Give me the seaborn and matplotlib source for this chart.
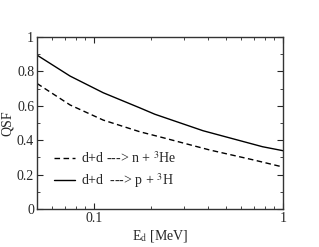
import seaborn as sns
import matplotlib.pyplot as plt
import matplotlib.ticker as mticker
import pandas as pd

# values
energy_n = [0.05, 0.0748, 0.112, 0.175, 0.224, 0.41, 0.7, 1.0]
qsf_n_he3 = [0.73, 0.605, 0.517, 0.449, 0.419, 0.343, 0.285, 0.244]
energy_p = [0.05, 0.0748, 0.112, 0.175, 0.21, 0.378, 0.78, 1.0]
qsf_p_h3 = [0.895, 0.773, 0.676, 0.588, 0.551, 0.455, 0.362, 0.339]
labels = ['d+d ---> n + $^3$He', 'd+d  ---> p + $^3$H']

df = pd.concat([
    pd.DataFrame({'E': energy_n, 'QSF': qsf_n_he3, 'reaction': labels[0]}),
    pd.DataFrame({'E': energy_p, 'QSF': qsf_p_h3, 'reaction': labels[1]}),
])

sns.set_style('ticks')
plt.rcParams['font.family'] = ['Liberation Serif', 'DejaVu Serif']
plt.rcParams['mathtext.fontset'] = 'stix'

fig = plt.figure(figsize=(3.19, 2.47), dpi=100)
ax = fig.add_axes([0.116, 0.154, 0.771, 0.696])

sns.lineplot(data=df, x='E', y='QSF', hue='reaction', style='reaction',
             palette=['black', 'black'], dashes=[(4, 2.5), ''],
             linewidth=1.0, ax=ax)

ax.set_xscale('log')
ax.set_xlim(0.05, 1)
ax.set_ylim(0, 1)
ax.xaxis.set_major_locator(mticker.FixedLocator([0.1, 1]))
ax.xaxis.set_major_formatter(mticker.FixedFormatter(['0.1', '1']))
ax.xaxis.set_minor_locator(mticker.LogLocator(subs=range(2, 10)))
ax.xaxis.set_minor_formatter(mticker.NullFormatter())
ax.yaxis.set_major_locator(mticker.MultipleLocator(0.2))
ax.yaxis.set_minor_locator(mticker.MultipleLocator(0.1))
ax.yaxis.set_major_formatter(mticker.FuncFormatter(lambda v, p: '%g' % v))

ax.tick_params(which='both', direction='in', top=True, right=True,
               labelsize=10, pad=2)
ax.tick_params(which='major', length=4)
ax.tick_params(which='minor', length=2)
for s in ax.spines.values():
    s.set_linewidth(1.0)
    s.set_color('#333333')

ax.set_xlabel('E$_\\mathrm{d}$ [MeV]', fontsize=10, labelpad=2)
ax.set_ylabel('QSF', fontsize=10, labelpad=2)

ax.legend(title=None, frameon=False, loc='lower left',
          bbox_to_anchor=(0.02, 0.04), fontsize=10, handlelength=1.5,
          handletextpad=0.4, labelspacing=0.35)

fig.savefig('out.png', dpi=100)
